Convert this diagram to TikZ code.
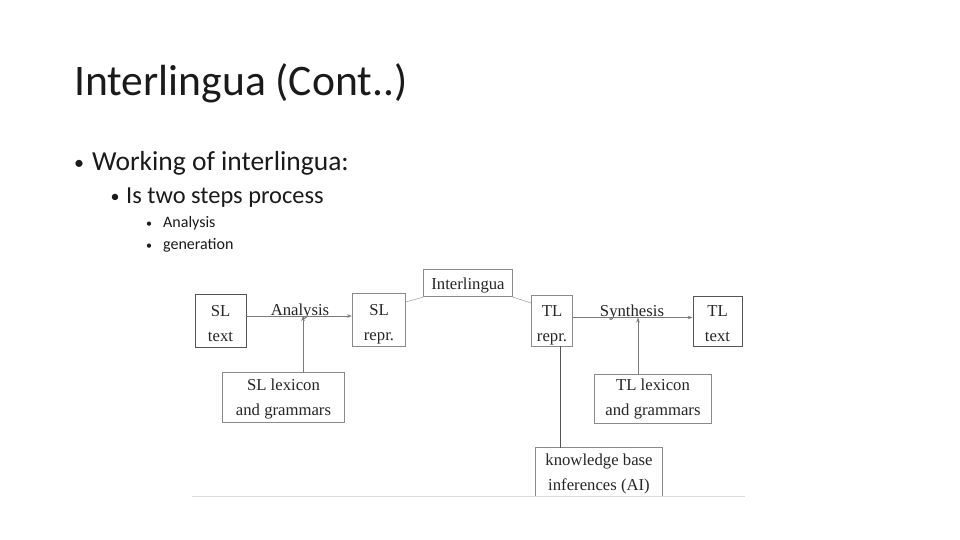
\documentclass[tikz,border=0pt]{standalone}
\usepackage{fontspec}
\setmainfont{Carlito}
\newfontfamily\diagfont{Liberation Serif}
\usetikzlibrary{arrows.meta}
\definecolor{boxgray}{HTML}{8A8A8A}
\definecolor{darkbox}{HTML}{555555}
\definecolor{linegray}{HTML}{7A7A7A}
\definecolor{thingray}{HTML}{9A9A9A}
\definecolor{pagegray}{HTML}{DCDCDC}
\definecolor{txt}{HTML}{1A1A1A}
\definecolor{dtxt}{HTML}{262626}
\begin{document}
\begin{tikzpicture}[x=1pt,y=-1pt,
  slide/.style={anchor=base west, inner sep=0pt, text=txt},
  bul/.style={anchor=base, inner sep=0pt, text=txt},
  boxnode/.style={draw=boxgray, line width=0.8pt, inner sep=0pt},
  darknode/.style={boxnode, draw=darkbox},
  boxtxt/.style={inner sep=0pt, align=center, text=dtxt,
    font=\diagfont\fontsize{16.7}{25}\selectfont},
  lbl/.style={anchor=base, inner sep=0pt, text=dtxt, font=\diagfont\fontsize{16.7}{19}\selectfont},
  arr/.style={draw=linegray, line width=0.7pt, -{Stealth[length=5pt,width=3.5pt]}},
  conn/.style={draw=linegray, line width=0.7pt},
  thinconn/.style={draw=thingray, line width=0.5pt},
  kbconn/.style={draw=darkbox, line width=0.9pt}
]
\useasboundingbox[fill=white] (0,0) rectangle (960,540);

% slide text
\node[slide, font=\fontsize{43.6}{52}\selectfont] (title) at (74,96) {Interlingua (Cont..)};
\node[bul, font=\fontsize{20}{24}\selectfont] (b1) at (79,170) {•};
\node[slide, font=\fontsize{27.5}{33}\selectfont] (l1) at (92,171) {Working of interlingua:};
\node[bul, font=\fontsize{18}{22}\selectfont] (b2) at (115,202) {•};
\node[slide, font=\fontsize{24.4}{29}\selectfont] (l2) at (126,203) {Is two steps process};
\node[bul, font=\fontsize{12}{14}\selectfont] (b3) at (149,227) {•};
\node[slide, font=\fontsize{16}{19}\selectfont] (l3a) at (163,227) {Analysis};
\node[bul, font=\fontsize{12}{14}\selectfont] (b4) at (149,249) {•};
\node[slide, font=\fontsize{16}{19}\selectfont] (l3b) at (163,249) {generation};

% diagram boxes
\node[darknode, minimum width=51pt, minimum height=53pt] (sltext) at (220.5,320.5) {};
\node[boxnode, minimum width=53.5pt, minimum height=53pt] (slrepr) at (379,319.5) {};
\node[boxnode, minimum width=89pt, minimum height=27.5pt] (inter) at (468,283) {};
\node[boxnode, minimum width=41pt, minimum height=51pt] (tlrepr) at (552,320.5) {};
\node[darknode, minimum width=49pt, minimum height=50pt] (tltext) at (717.5,321) {};
\node[boxnode, minimum width=121.5pt, minimum height=50pt] (sllex) at (283.5,397.5) {};
\node[boxnode, minimum width=117pt, minimum height=49pt] (tllex) at (653,399) {};
\node[inner sep=0pt, minimum width=126pt, minimum height=48pt] (kb) at (599,472) {};
\draw[boxgray, line width=0.8pt] (kb.south west) -- (kb.north west) -- (kb.north east) -- (kb.south east);

% box texts
\node[boxtxt] (sltext-t) at ([yshift=-3pt]sltext.center) {SL\\text};
\node[boxtxt] (slrepr-t) at ([yshift=-5pt]slrepr.center) {SL\\repr.};
\node[boxtxt] (inter-t) at ([yshift=-3pt]inter.center) {Interlingua};
\node[boxtxt] (tlrepr-t) at ([yshift=-5pt]tlrepr.center) {TL\\repr.};
\node[boxtxt] (tltext-t) at ([yshift=-2.5pt]tltext.center) {TL\\text};
\node[boxtxt] (sllex-t) at ([yshift=-2pt]sllex.center) {SL lexicon\\and grammars};
\node[boxtxt] (tllex-t) at ([yshift=-0.5pt]tllex.center) {TL lexicon\\and grammars};
\node[boxtxt] (kb-t) at ([yshift=-2pt]kb.center) {knowledge base\\inferences (AI)};

% join points
\coordinate (ajoin) at (303,316);
\coordinate (sjoin) at (638,317.5);
\coordinate (kjoin) at (560,346);

% labels
\node[lbl] (alabel) at (300,315) {Analysis};
\node[lbl] (slabel) at (632,316) {Synthesis};

% connectors
\draw[arr] (sltext.east |- ajoin) -- (slrepr.west |- ajoin);
\draw[arr] (sllex.north -| ajoin) -- (ajoin);
\draw[arr] (tlrepr.east |- sjoin) -- (tltext.west |- sjoin);
\draw[arr] (tllex.north -| sjoin) -- (sjoin);
\draw[kbconn] (tlrepr.south -| kjoin) -- (kb.north -| kjoin);
\draw[thinconn] (slrepr.33) -- (inter.south west);
\draw[thinconn] (inter.south east) -- (tlrepr.140);

% bottom edge of pasted figure
\coordinate (pl) at (192,496);
\coordinate (pr) at (745,496);
\draw[pagegray, line width=0.8pt] (pl) -- (pr);
\end{tikzpicture}
\end{document}
